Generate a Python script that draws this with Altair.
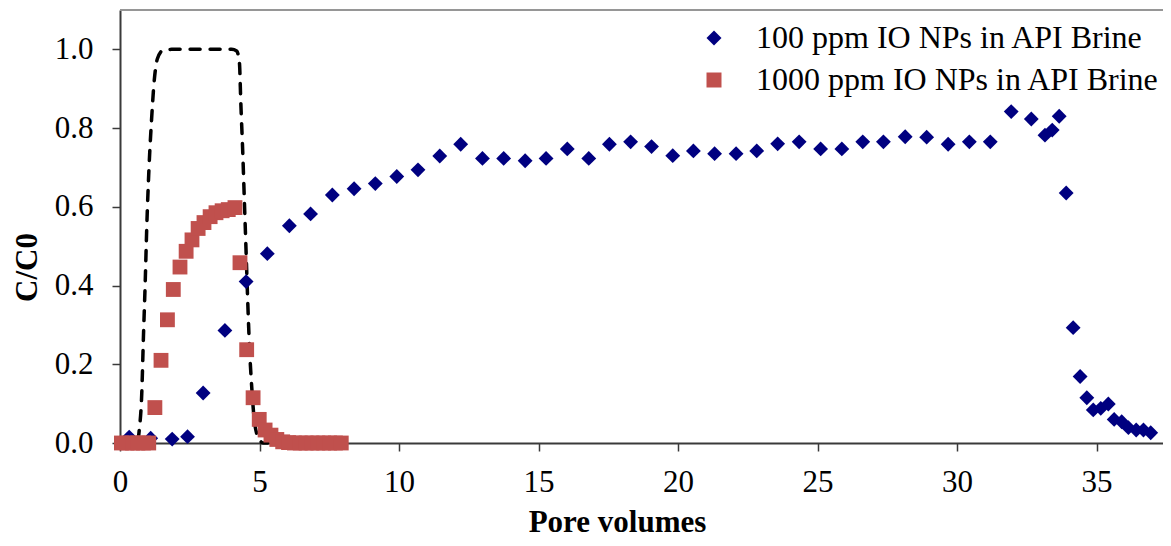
import altair as alt
import pandas as pd

# 100 ppm IO NPs in API Brine (diamonds)
pv_100 = [0.33, 1.1, 1.87, 2.42, 2.98, 3.76, 4.52, 5.28, 6.07, 6.83,
          7.61, 8.39, 9.15, 9.92, 10.68, 11.46, 12.21, 12.99, 13.75, 14.52,
          15.27, 16.03, 16.80, 17.54, 18.30, 19.05, 19.81, 20.55, 21.31, 22.08,
          22.82, 23.57, 24.34, 25.11, 25.87, 26.62, 27.36, 28.14, 28.91, 29.68,
          30.44, 31.19, 31.94, 32.66, 33.15, 33.41, 33.66, 33.91, 34.16, 34.41,
          34.65, 34.88, 35.15, 35.42, 35.63, 35.90, 36.14, 36.42, 36.68, 36.94]
c_100 = [0.015, 0.012, 0.01, 0.016, 0.127, 0.286, 0.41, 0.481, 0.552, 0.582,
         0.630, 0.646, 0.659, 0.677, 0.694, 0.729, 0.759, 0.723, 0.723, 0.717,
         0.723, 0.747, 0.723, 0.759, 0.765, 0.753, 0.730, 0.742, 0.735, 0.735,
         0.742, 0.760, 0.765, 0.747, 0.747, 0.765, 0.765, 0.778, 0.777, 0.759,
         0.765, 0.765, 0.842, 0.823, 0.782, 0.795, 0.830, 0.635, 0.293, 0.169,
         0.115, 0.084, 0.088, 0.099, 0.060, 0.054, 0.039, 0.033, 0.033, 0.026]

# 1000 ppm IO NPs in API Brine (squares)
pv_1000 = [0.05, 0.25, 0.45, 0.64, 0.84, 1.03, 1.25, 1.47, 1.70, 1.91,
           2.15, 2.37, 2.58, 2.80, 3.01, 3.23, 3.44, 3.66, 3.88, 4.12,
           4.30, 4.54, 4.77, 4.99, 5.20, 5.41, 5.62, 5.83, 6.04, 6.25,
           6.46, 6.67, 6.88, 7.09, 7.30, 7.51, 7.72, 7.93]
c_1000 = [0, 0, 0, 0, 0, 0, 0.09, 0.21, 0.313, 0.39,
          0.447, 0.487, 0.516, 0.545, 0.56, 0.575, 0.585, 0.59, 0.593, 0.598,
          0.458, 0.237, 0.115, 0.06, 0.033, 0.02, 0.009, 0.003, 0.001, 0,
          0, 0, 0, 0, 0, 0, 0, 0]

# Tracer (dashed line)
pv_tracer = [0, 0.62, 0.69, 0.78, 0.84, 0.90, 0.96, 1.04, 1.13, 1.22, 1.34, 1.55,
             1.85, 4.0, 4.18, 4.28, 4.33, 4.40, 4.46, 4.52, 4.58, 4.64, 4.72,
             4.80, 4.92, 5.14, 5.3]
c_tracer = [0, 0, 0.033, 0.126, 0.27, 0.40, 0.55, 0.70, 0.82, 0.915, 0.976, 0.998,
            1.0, 1.0, 0.996, 0.966, 0.864, 0.737, 0.61, 0.483, 0.355, 0.245, 0.143,
            0.067, 0.02, 0.0, 0.0]

series_names = ["100 ppm IO NPs in API Brine", "1000 ppm IO NPs in API Brine"]
x_ticks = [0, 5, 10, 15, 20, 25, 30, 35]
y_ticks = [0.0, 0.2, 0.4, 0.6, 0.8, 1.0]

pts = pd.concat([
    pd.DataFrame({"pv": pv_100, "c": c_100, "series": series_names[0]}),
    pd.DataFrame({"pv": pv_1000, "c": c_1000, "series": series_names[1]}),
], ignore_index=True)
pts["order"] = range(len(pts))
tracer = pd.DataFrame({"pv": pv_tracer, "c": c_tracer})

W, H = 1043, 433
FONT = "Liberation Serif"

xscale = alt.Scale(domain=[0, 37.38], nice=False, zero=False)
yscale = alt.Scale(domain=[0, 1.1], nice=False)

xaxis = alt.Axis(values=x_ticks, format="d", grid=False, title="Pore volumes",
                 titleX=497, titleY=88, titleAlign="center", titleBaseline="alphabetic",
                 labelBaseline="alphabetic", labelPadding=40, labelFlush=False)
yaxis = alt.Axis(values=y_ticks, format=".1f", grid=False, title="C/C0",
                 titleX=-84, titleY=257, titleAlign="center", titleBaseline="alphabetic",
                 titleAngle=270, labelPadding=19, labelFlush=False)

line = alt.Chart(tracer).mark_line(
    color="black", strokeWidth=3.5, strokeDash=[10, 10], strokeCap="round",
    interpolate="monotone"
).encode(
    x=alt.X("pv:Q", scale=xscale, axis=xaxis),
    y=alt.Y("c:Q", scale=yscale, axis=yaxis),
)

points = alt.Chart(pts).mark_point(filled=True, opacity=1, size=220, strokeWidth=0).encode(
    x=alt.X("pv:Q", scale=xscale),
    y=alt.Y("c:Q", scale=yscale),
    color=alt.Color("series:N", scale=alt.Scale(domain=series_names, range=["#000080", "#C0504D"]),
                    legend=alt.Legend(title=None, orient="none", legendX=578, legendY=12)),
    shape=alt.Shape("series:N", scale=alt.Scale(domain=series_names, range=["diamond", "square"])),
    order=alt.Order("order:Q"),
)

top_border = alt.Chart(pd.DataFrame({"a": [0]})).mark_rule(color="#969696", strokeWidth=2).encode(
    x=alt.value(0), x2=alt.value(W), y=alt.value(0)
)

chart = alt.layer(line, points, top_border).properties(
    width=W, height=H,
    autosize=alt.AutoSizeParams(type="none"),
    padding={"left": 112, "top": 2, "right": 0, "bottom": 95},
).configure_view(stroke=None).configure_axis(
    labelFont=FONT, labelFontSize=31, labelColor="black",
    titleFont=FONT, titleFontSize=31, titleFontWeight="bold", titleColor="black",
    domainColor="#3a3a3a", domainWidth=2, tickColor="#3a3a3a", tickWidth=1.5, tickSize=8,
).configure_legend(
    labelFont=FONT, labelFontSize=32, labelColor="black", symbolSize=225,
    symbolStrokeWidth=0, labelOffset=26, rowPadding=10, padding=0, labelLimit=0,
)

chart.save("out.html", embed_options={"renderer": "svg", "actions": False})
